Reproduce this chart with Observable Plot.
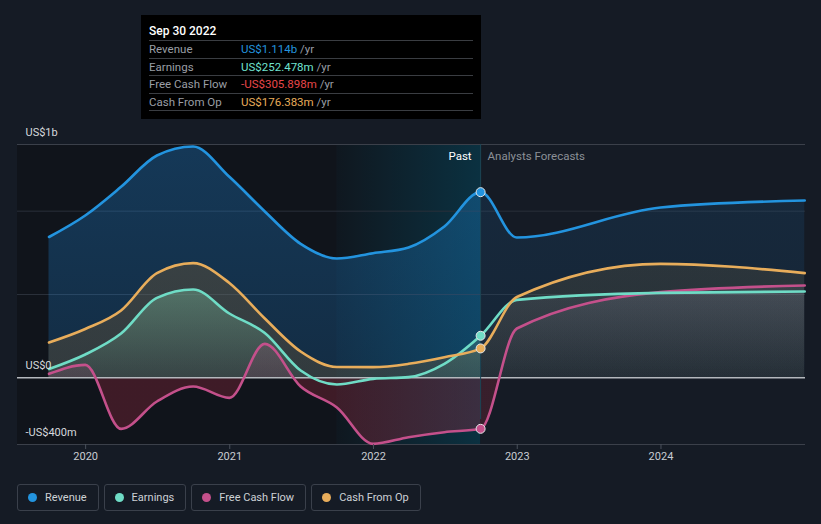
<!DOCTYPE html>
<html><head><meta charset="utf-8">
<script src="https://cdn.jsdelivr.net/npm/d3@7"></script>
<script src="https://cdn.jsdelivr.net/npm/@observablehq/plot@0.6"></script>
<style>
body{margin:0;background:#151b25;font-family:Roboto,"Noto Sans",sans-serif;}
#wrap{position:relative;width:821px;height:524px;overflow:hidden;}
#chart{position:absolute;left:0;top:0;}
.tip{position:absolute;left:141px;top:15px;width:340px;height:104px;background:#000;box-sizing:border-box;padding:0 8px;}
.tip .t{color:#fff;font-size:12px;font-weight:500;height:25px;line-height:32px;border-bottom:1px solid #3a3d42;}
.tip .r{height:16.5px;line-height:17px;font-size:11.5px;border-bottom:1px solid #3a3d42;display:flex;white-space:pre;}
.tip .l{width:92px;color:#9a9ea5;}
.tip .u{color:#9a9ea5;}
.legend{position:absolute;top:484px;left:17px;display:flex;gap:5px;}
.item{height:27px;box-sizing:border-box;border:1px solid #3a404b;border-radius:3px;display:flex;align-items:center;padding:0 11px 0 10px;color:#cdd1d6;font-size:11px;}
.dot{width:9px;height:9px;border-radius:50%;margin-right:8px;}
</style></head>
<body>
<div id="wrap"><div id="chart"></div><div id="tip" class="tip"></div><div id="legend" class="legend"></div></div>
<script>
// ---- data (US$ millions) ----
const dates = ["2019-09-30","2019-12-31","2020-03-31","2020-06-30","2020-09-30","2020-12-31","2021-03-31","2021-06-30","2021-09-30","2021-12-31","2022-03-31","2022-06-30","2022-09-30","2022-12-31","2023-12-31","2024-12-31"];
const revenue      = [845, 974, 1146, 1334, 1388, 1206, 998, 804, 716, 748, 782, 908, 1114, 842, 1022, 1064];
const earnings     = [53, 140, 266, 480, 530, 386, 269, 44, -40, -6, 4, 84, 252.478, 468, 510, 518];
const freeCashFlow = [24, 78, -306, -142, -52, -120, 204, -52, -178, -396, -356, -326, -305.898, 296, 514, 554];
const cashFromOp   = [212, 293, 404, 628, 688, 569, 356, 158, 65, 64, 84, 124, 176.383, 485, 684, 628];
const seriesNames = ["Revenue", "Earnings", "Free Cash Flow", "Cash From Op"];
const pastEnd = "2022-09-30";
const highlightStart = "2021-09-30";
const xDomain = ["2019-07-12", "2025-01-02"];
const yDomain = [-400, 1400];
const yGrid = [500, 1000];
const yLabelValues = [1400, 0, -400];
const yLabelTexts = ["US$1b", "US$0", "-US$400m"];
const years = [2020, 2021, 2022, 2023, 2024];
const tipDate = "Sep 30 2022";
const tipValues = ["US$1.114b", "US$252.478m", "-US$305.898m", "US$176.383m"];

// ---- build ----
const parse = d3.utcParse("%Y-%m-%d");
const colors = {"Revenue":"#2394df","Earnings":"#6fdcc6","Free Cash Flow":"#c4508b","Cash From Op":"#e8ad5b"};
const tipColors = {"Revenue":"#2394df","Earnings":"#71e3d0","Free Cash Flow":"#e8474a","Cash From Op":"#e8ad5b"};
const valuesOf = {"Revenue":revenue,"Earnings":earnings,"Free Cash Flow":freeCashFlow,"Cash From Op":cashFromOp};
const ids = {"Revenue":"rev","Earnings":"earn","Free Cash Flow":"fcf","Cash From Op":"cfo"};
const rows = {};
seriesNames.forEach(n => rows[n] = dates.map((d,i) => ({date: parse(d), value: valuesOf[n][i]})));
const pastDate = parse(pastEnd);
const pastIdx = dates.indexOf(pastEnd);
const yearDates = years.map(y => new Date(Date.UTC(y,0,1)));
const areaOrder = ["Revenue","Cash From Op","Earnings","Free Cash Flow"];
const lineOrder = ["Revenue","Free Cash Flow","Earnings","Cash From Op"];

const marks = [
  Plot.rect([0], {x1: () => parse(xDomain[0]), x2: () => pastDate, y1: () => yDomain[0], y2: () => yDomain[1], fill: "#10141b"}),
  Plot.rect([0], {x1: () => parse(highlightStart), x2: () => pastDate, y1: () => yDomain[0], y2: () => yDomain[1], fill: "url(#hl)"}),
  Plot.ruleY(yGrid, {stroke: "#2a303a", strokeWidth: 1}),
  Plot.ruleY([yDomain[1]], {stroke: "#3b404a", strokeWidth: 1}),
];
areaOrder.forEach(n => {
  marks.push(Plot.areaY(rows[n], {x: "date", y: "value", curve: "monotone-x", fill: `url(#${ids[n]}P)`}));
  marks.push(Plot.areaY(rows[n], {x: "date", y: "value", curve: "monotone-x", fill: `url(#${ids[n]}F)`}));
});
marks.push(Plot.ruleY([0], {stroke: "#b4b8bd", strokeWidth: 1.5}));
marks.push(Plot.ruleY([yDomain[0]], {stroke: "#3b404a", strokeWidth: 1}));
marks.push(Plot.ruleX([pastDate], {y1: yDomain[0], y2: yDomain[1], insetTop: -25, stroke: "#1c4656", strokeWidth: 1}));
lineOrder.forEach(n => {
  marks.push(Plot.line(rows[n], {x: "date", y: "value", curve: "monotone-x", stroke: colors[n], strokeWidth: 2.6}));
});
lineOrder.forEach(n => {
  marks.push(Plot.dot([rows[n][pastIdx]], {x: "date", y: "value", r: 4.5, fill: colors[n], stroke: "#e6e8ea", strokeWidth: 1}));
});
marks.push(Plot.text(yLabelValues.map((v,i) => ({v, t: yLabelTexts[i]})), {y: "v", text: "t", frameAnchor: "left", dx: 8, dy: -12, textAnchor: "start", fill: "#d6d9dd", fontSize: 11}));
marks.push(Plot.text(["Past"], {x: () => pastDate, y: () => yDomain[1], text: d => d, dx: -9, dy: 12, textAnchor: "end", fill: "#ffffff", fontSize: 11.5}));
marks.push(Plot.text(["Analysts Forecasts"], {x: () => pastDate, y: () => yDomain[1], text: d => d, dx: 7, dy: 12, textAnchor: "start", fill: "#8b9097", fontSize: 11.5}));
marks.push(Plot.axisX({ticks: yearDates, tickFormat: d3.utcFormat("%Y"), tickSize: 5, tickPadding: 3, stroke: "#4a505b", fill: "#c8ccd2", fontSize: 11, label: null}));

const chart = Plot.plot({
  width: 821, height: 470,
  marginLeft: 17, marginRight: 16, marginTop: 144, marginBottom: 26,
  style: {background: "transparent", fontFamily: "Roboto, sans-serif", fontSize: "11px", color: "#c8ccd2", overflow: "visible"},
  x: {type: "utc", domain: xDomain.map(parse), axis: null},
  y: {domain: yDomain, axis: null},
  marks
});
document.getElementById("chart").appendChild(chart);

// gradients and clipping
const X = chart.scale("x"), Y = chart.scale("y");
const svg = d3.select(chart);
const defs = svg.insert("defs", ":first-child");
function grad(id, x1, y1, x2, y2, stops) {
  const g = defs.append("linearGradient").attr("id", id).attr("gradientUnits", "userSpaceOnUse")
    .attr("x1", x1).attr("y1", y1).attr("x2", x2).attr("y2", y2);
  stops.forEach(([o, c, op]) => g.append("stop").attr("offset", o).attr("stop-color", c).attr("stop-opacity", op));
}
const yTop = Y.apply(yDomain[1]), yZero = Y.apply(0), yBot = Y.apply(yDomain[0]);
const z = (yZero - yTop) / (yBot - yTop);
const vg = (id, stops) => grad(id, 0, yTop, 0, yBot, stops);
vg("revP", [[0, "#2196f3", 0.28], [z, "#2196f3", 0.19], [1, "#2196f3", 0.19]]);
vg("revF", [[0, "#2196f3", 0.12], [z, "#2196f3", 0.08], [1, "#2196f3", 0.08]]);
vg("cfoP", [[0, "#7a5a30", 0.42], [z, "#7a5a30", 0.30], [1, "#7a5a30", 0.3]]);
vg("cfoF", [[0, "#7c6840", 0.27], [z, "#7c6840", 0.15], [1, "#7c6840", 0.15]]);
const e = (Y.apply(550) - yTop) / (yBot - yTop);
vg("earnP", [[0, "#74b396", 0.45], [e, "#74b396", 0.45], [z, "#74b396", 0.08], [1, "#74b396", 0.08]]);
vg("earnF", [[0, "#b8bad0", 0.1], [e, "#b8bad0", 0.1], [z, "#b8bad0", 0.0], [1, "#b8bad0", 0.0]]);
vg("fcfP", [[0, "#c04a80", 0.3], [z, "#c04a80", 0.14], [z, "#a02a40", 0.32], [1, "#a02a40", 0.32]]);
vg("fcfF", [[0, "#b8bad0", 0.1], [e, "#b8bad0", 0.1], [z, "#b8bad0", 0.0], [z, "#a02a40", 0.25], [1, "#a02a40", 0.25]]);
grad("hl", X.apply(parse(highlightStart)), 0, X.apply(pastDate), 0, [[0, "#00698a", 0.04], [1, "#00698a", 0.34]]);
const xp = X.apply(pastDate);
defs.append("clipPath").attr("id", "clipPast").append("rect").attr("x", 0).attr("y", 0).attr("width", xp).attr("height", 470);
defs.append("clipPath").attr("id", "clipFore").append("rect").attr("x", xp).attr("y", 0).attr("width", 821 - xp).attr("height", 470);
Object.values(ids).forEach(id => {
  svg.selectAll(`[fill="url(#${id}P)"]`).attr("clip-path", "url(#clipPast)");
  svg.selectAll(`[fill="url(#${id}F)"]`).attr("clip-path", "url(#clipFore)");
});

// tooltip
const tip = d3.select("#tip");
tip.append("div").attr("class", "t").text(tipDate);
seriesNames.forEach((n, i) => {
  const r = tip.append("div").attr("class", "r");
  r.append("span").attr("class", "l").text(n);
  r.append("span").style("color", tipColors[n]).text(tipValues[i]);
  r.append("span").attr("class", "u").text(" /yr");
});

// legend
const lg = d3.select("#legend");
seriesNames.forEach(n => {
  const it = lg.append("div").attr("class", "item");
  it.append("span").attr("class", "dot").style("background", colors[n]);
  it.append("span").text(n);
});
</script>
</body></html>
